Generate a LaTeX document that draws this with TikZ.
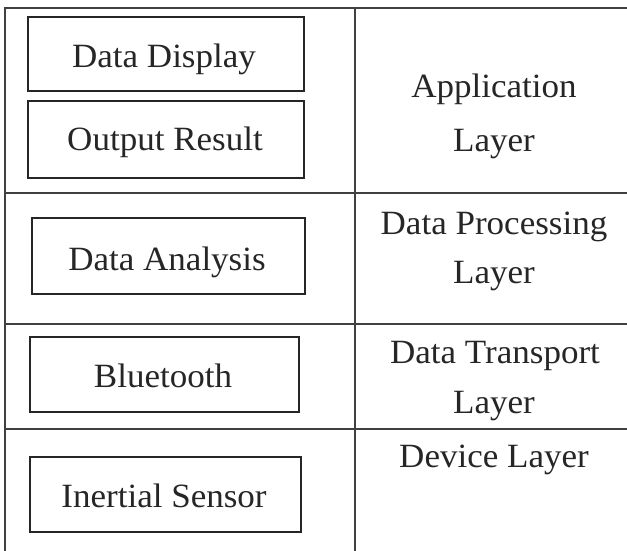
\documentclass[tikz,border=0pt]{standalone}
\usepackage{fontspec}
\setmainfont{Liberation Serif}[FakeStretch=1.03]
\begin{document}
\begin{tikzpicture}[x=1pt,y=-1pt,
  grid/.style={draw=black!75, line width=1.4pt},
  box/.style={draw=black!85, line width=1.8pt, inner sep=0pt},
  lbl/.style={font=\fontsize{34}{40}\selectfont, text=black!85, anchor=base, inner sep=0pt},
  boxtext/.style={font=\fontsize{34}{40}\selectfont, text=black!85, anchor=base, inner sep=0pt}]
\useasboundingbox (0,0) rectangle (627,551);
\fill[white] (0,0) rectangle (627,551);
% table grid
\coordinate (tl) at (5,8);
\coordinate (tr) at (640,8);
\coordinate (bl) at (5,560);
\coordinate (vt) at (355,8);
\coordinate (vb) at (355,560);
\coordinate (h1l) at (5,193);   \coordinate (h1r) at (640,193);
\coordinate (h2l) at (5,324);   \coordinate (h2r) at (640,324);
\coordinate (h3l) at (5,429);   \coordinate (h3r) at (640,429);
\draw[grid] (tr) -- (tl) -- (bl);
\draw[grid] (vt) -- (vb);
\draw[grid] (h1l) -- (h1r);
\draw[grid] (h2l) -- (h2r);
\draw[grid] (h3l) -- (h3r);
% boxes
\draw[box] (28,17) rectangle (304,91);
\draw[box] (28,101) rectangle (304,178);
\draw[box] (32,218) rectangle (305,294);
\draw[box] (30,337) rectangle (299,412);
\draw[box] (30,457) rectangle (301,532);
\node[boxtext] (dd) at (164,67) {Data Display};
\node[boxtext] (or) at (165,150) {Output Result};
\node[boxtext] (da) at (167,270) {Data Analysis};
\node[boxtext] (bt) at (163,387) {Bluetooth};
\node[boxtext] (is) at (164,507) {Inertial Sensor};
% layer labels
\node[lbl] (a1) at (494,98) {Application};
\node[lbl] (a2) at (494,151) {Layer};
\node[lbl] (p1) at (494,234) {Data Processing};
\node[lbl] (p2) at (494,283) {Layer};
\node[lbl] (t1) at (495,363) {Data Transport};
\node[lbl] (t2) at (494,413) {Layer};
\node[lbl] (d1) at (494,467) {Device Layer};
\end{tikzpicture}
\end{document}
